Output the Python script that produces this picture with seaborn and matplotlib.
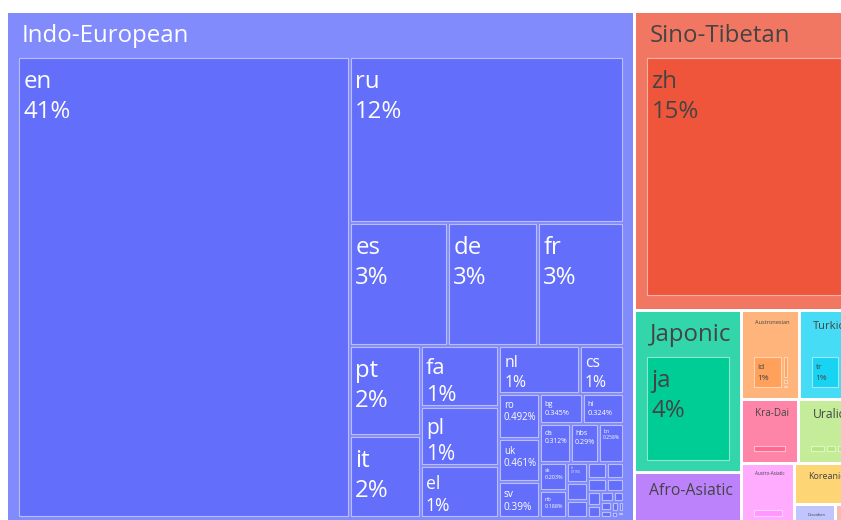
import matplotlib
matplotlib.use("Agg")
import matplotlib.pyplot as plt
from matplotlib.patches import Rectangle
from matplotlib.font_manager import FontProperties
import seaborn as sns

# share of all text (percent of root), language codes grouped by family
ie_langs = ["en", "ru", "es", "de", "fr", "pt", "it", "fa", "pl", "el", "nl", "cs",
            "ro", "uk", "sv", "bg", "hi", "da", "hbs", "bn", "sk", "nb", "lt", "lv", "sl",
            "mk", "hy", "is", "sq", "ur", "mr", "af", "be", "gu", "ga", "cy", "pa", "ne", "lb", "br"]
ie_vals = [40.554, 12.06, 3.20, 2.94, 2.81, 1.695, 1.545, 1.277, 1.235, 1.088, 1.03, 0.565,
           0.492, 0.461, 0.39, 0.345, 0.324, 0.312, 0.29, 0.258, 0.203, 0.188, 0.115, 0.098, 0.097,
           0.082, 0.076, 0.062, 0.055, 0.05, 0.043, 0.036, 0.03, 0.025, 0.02, 0.016, 0.013, 0.01, 0.007, 0.003]

st_langs = ["zh", "my", "bo"]
st_vals = [14.8, 0.12, 0.08]

jp_langs = ["ja"]
jp_vals = [3.94]

aa_langs = ["ar", "he", "am", "ha"]
aa_vals = [1.05, 0.24, 0.05, 0.03]

an_langs = ["id", "tl", "ms", "jv"]
an_vals = [0.985, 0.13, 0.035, 0.019]

tk_langs = ["tr", "az", "kk", "uz", "ky"]
tk_vals = [0.99, 0.05, 0.03, 0.02, 0.008]

kd_langs = ["th", "lo"]
kd_vals = [0.82, 0.015]

ur_langs = ["hu", "fi", "et"]
ur_vals = [0.4, 0.25, 0.164]

as_langs = ["vi", "km"]
as_vals = [0.78, 0.009]

ko_langs = ["ko"]
ko_vals = [0.558]

dr_langs = ["ta", "te", "ml", "kn"]
dr_vals = [0.1, 0.06, 0.04, 0.025]

ka_langs = ["ka"]
ka_vals = [0.102]

families = ["Indo-European", "Sino-Tibetan", "Japonic", "Afro-Asiatic", "Austronesian", "Turkic",
            "Kra-Dai", "Uralic", "Austro-Asiatic", "Koreanic", "Dravidian", "Kartvelian"]
family_langs = [ie_langs, st_langs, jp_langs, aa_langs, an_langs, tk_langs,
                kd_langs, ur_langs, as_langs, ko_langs, dr_langs, ka_langs]
family_vals = [ie_vals, st_vals, jp_vals, aa_vals, an_vals, tk_vals,
               kd_vals, ur_vals, as_vals, ko_vals, dr_vals, ka_vals]

# plotly-like look
sns.set_theme(style="white")
plt.rcParams["font.family"] = ["Open Sans", "DejaVu Sans"]
palette = sns.color_palette(["#636EFA", "#EF553B", "#00CC96", "#AB63FA", "#FFA15A",
                             "#19D3F3", "#FF6692", "#B6E880", "#FF97FF", "#FECB52"])
light_text = {"Indo-European"}
header_strength = {"Dravidian": 0.4, "Kartvelian": 0.4}

W_PX, H_PX = 841, 520
PAD_INNER, PAD_T, PAD_SIDE = 3.0, 45.0, 11.0
ROOT = (6.5, 11.5, 854.0, 528.5)   # the original treemap runs past the right/bottom crop
FONT_PX = 24.0


def squarify(values, x0, y0, x1, y1):
    # d3 squarify, ratio 1 (plotly default tiling)
    n = len(values)
    rects = [(x0, y0, x0, y0)] * n
    value = float(sum(values))
    i0 = i1 = 0
    while i0 < n:
        dx, dy = x1 - x0, y1 - y0
        if dx <= 0 or dy <= 0 or value <= 0:
            break
        sum_v = values[i1]
        i1 += 1
        min_v = max_v = sum_v
        alpha = max(dy / dx, dx / dy) / value
        beta = sum_v * sum_v * alpha
        min_ratio = max(max_v / beta, beta / min_v)
        while i1 < n:
            nv = values[i1]
            sum_v += nv
            min_v, max_v = min(min_v, nv), max(max_v, nv)
            beta = sum_v * sum_v * alpha
            new_ratio = max(max_v / beta, beta / min_v)
            if new_ratio > min_ratio:
                sum_v -= nv
                break
            min_ratio = new_ratio
            i1 += 1
        if dx < dy:
            ny = y0 + dy * sum_v / value
            xx = x0
            for j in range(i0, i1):
                w = (x1 - x0) * values[j] / sum_v
                rects[j] = (xx, y0, xx + w, ny)
                xx += w
            y0 = ny
        else:
            nx = x0 + dx * sum_v / value
            yy = y0
            for j in range(i0, i1):
                h = (y1 - y0) * values[j] / sum_v
                rects[j] = (x0, yy, nx, yy + h)
                yy += h
            x0 = nx
        value -= sum_v
        i0 = i1
    return rects


def shrink(r, p):
    x0, y0, x1, y1 = r[0] + p, r[1] + p, r[2] - p, r[3] - p
    if x1 < x0:
        x0 = x1 = (x0 + x1) / 2
    if y1 < y0:
        y0 = y1 = (y0 + y1) / 2
    return x0, y0, x1, y1


def mix(c, t):
    return tuple(t * v + (1 - t) * 1.0 for v in c)


def fmt_pct(v):
    if v >= 0.5:
        return "%d%%" % int(v + 0.5)
    return "%s%%" % ("%.3g" % v)


fig = plt.figure(figsize=(W_PX / 100, H_PX / 100), dpi=100)
ax = fig.add_axes([0, 0, 1, 1])
ax.set_xlim(0, W_PX)
ax.set_ylim(H_PX, 0)
ax.axis("off")
renderer = fig.canvas.get_renderer()


def text_w(s, px):
    prop = FontProperties(family=["Open Sans", "DejaVu Sans"], size=px * 0.72)
    return renderer.get_text_width_height_descent(s, prop, ismath=False)[0]


totals = [sum(v) for v in family_vals]
order = sorted(range(len(families)), key=lambda i: -totals[i])
fam_rects = squarify([totals[i] for i in order], *ROOT)
p = PAD_INNER / 2

for k, fi in enumerate(order):
    name = families[fi]
    color = palette[k % len(palette)]
    tcol = "white" if name in light_text else "#444444"
    fx0, fy0, fx1, fy1 = shrink(fam_rects[k], p)
    fw, fh = fx1 - fx0, fy1 - fy0
    if fw <= 0 or fh <= 0:
        continue
    ax.add_patch(Rectangle((fx0, fy0), fw, fh, facecolor=mix(color, header_strength.get(name, 0.8)),
                           edgecolor="none"))

    # family header
    s = min(1.0, (fw - 20) / text_w(name, FONT_PX), (fh - 4) / 30)
    if s * FONT_PX >= 2.5:
        ax.text(fx0 + 11 + 3 * s, fy0 + 6 + 23 * s, name, fontsize=FONT_PX * s * 0.72,
                color=tcol, va="baseline", ha="left", clip_on=True)

    # languages inside the family
    tx0, ty0, tx1, ty1 = shrink((fx0 + PAD_SIDE, fy0 + PAD_T, fx1 - PAD_SIDE, fy1 - PAD_SIDE), -p)
    langs = family_langs[fi]
    vals = family_vals[fi]
    lorder = sorted(range(len(vals)), key=lambda i: -vals[i])
    if tx1 - tx0 <= 0 or ty1 - ty0 <= 0:
        continue
    lrects = squarify([vals[i] for i in lorder], tx0, ty0, tx1, ty1)
    for r, li in zip(lrects, lorder):
        x0, y0, x1, y1 = shrink(r, p)
        w, h = x1 - x0, y1 - y0
        if w <= 0.3 or h <= 0.3:
            continue
        ax.add_patch(Rectangle((x0, y0), w, h, facecolor=color,
                               edgecolor=(1, 1, 1, 0.5), linewidth=0.8))
        lab, pct = langs[li], fmt_pct(vals[li])
        tw = max(text_w(lab, FONT_PX), text_w(pct, FONT_PX))
        s = min(1.0, (h - 11) / 52, (w - 5) / tw)
        if s * FONT_PX < 3:
            continue
        b1 = y0 + 2 + 28 * s
        ax.text(x0 + 3 + 1.5 * s, b1, lab, fontsize=FONT_PX * s * 0.72, color=tcol,
                va="baseline", ha="left", clip_on=True)
        ax.text(x0 + 3 + 1.5 * s, b1 + 30 * s, pct, fontsize=FONT_PX * s * 0.72, color=tcol,
                va="baseline", ha="left", clip_on=True)

fig.savefig("out.png", dpi=100, facecolor="white")
